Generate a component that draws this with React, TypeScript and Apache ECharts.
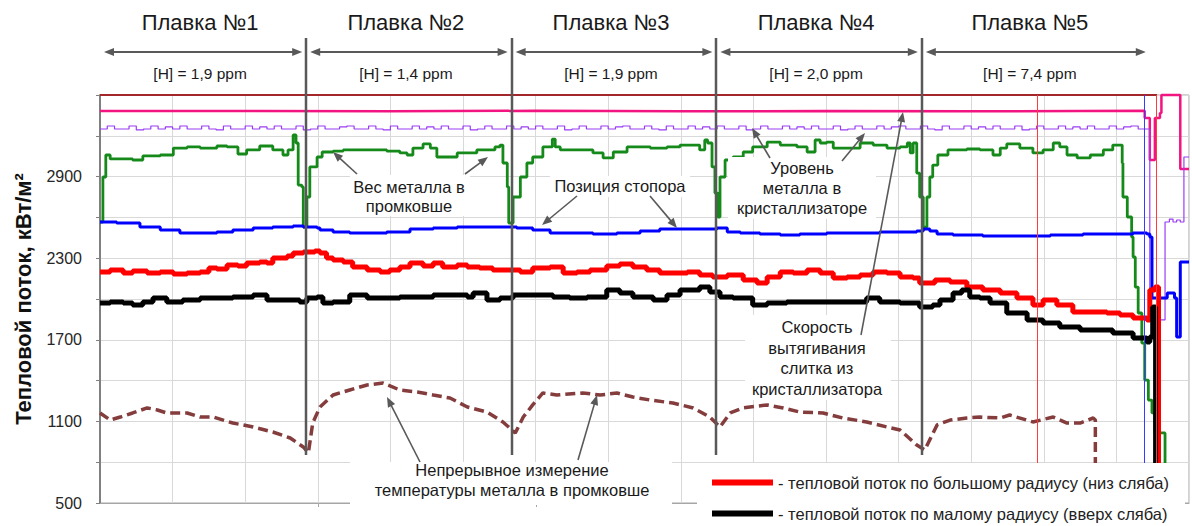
import React, { useEffect, useRef } from 'react';
import * as echarts from 'echarts';

const FONT = "'Liberation Sans', Arial, Helvetica, sans-serif";
const Y_BASE = 500;
const Y_LABELS = [500, 1100, 1700, 2300, 2900];

const heatNames = ['Плавка №1', 'Плавка №2', 'Плавка №3', 'Плавка №4', 'Плавка №5'];
const hydrogenPpm = ['[H] = 1,9 ppm', '[H] = 1,4 ppm', '[H] = 1,9 ppm', '[H] = 2,0 ppm', '[H] = 7,4 ppm'];
const heatBounds = [0, 28.4, 56.7, 84.9, 113.2, 144.6];

const LEG_LARGE = 'тепловой поток по большому радиусу (низ сляба)';
const LEG_SMALL = 'тепловой поток по малому радиусу (вверх сляба)';

const topLine: [number, number][] = [[0, 3500], [145.6, 3500]];

const castingSpeed: [number, number][] = [
  [0, 3382], [20, 3380], [40, 3384], [60, 3380], [80, 3382], [100, 3380], [120, 3384], [143.9, 3382],
  [143.9, 3331], [144.6, 3331], [144.6, 3022], [145.3, 3022], [145.3, 3331], [146.0, 3331], [146.0, 3368],
  [146.2, 3368], [146.2, 3500], [148.8, 3500], [148.8, 2956], [150, 2956],
];

const moldLevelSteady = [
  3250, 3272, 3250, 3250, 3272, 3243, 3250, 3272, 3250, 3265, 3250, 3272, 3250, 3250, 3272, 3250, 3243, 3272, 3250, 3250,
  3272, 3250, 3265, 3250, 3272, 3250, 3250, 3272, 3243, 3250, 3272, 3250, 3250, 3265, 3272, 3250, 3250, 3272, 3250, 3243,
  3272, 3250, 3250, 3272, 3250, 3265, 3250, 3272, 3250, 3250, 3272, 3243, 3250, 3272, 3250, 3250, 3272, 3250, 3265, 3250,
  3272, 3250, 3250, 3272, 3243, 3250, 3272, 3250, 3250, 3272, 3250, 3265, 3272, 3250, 3250, 3272, 3250, 3243, 3272, 3250,
  3250, 3272, 3250, 3265, 3250, 3272, 3250, 3250, 3272, 3243, 3250, 3272, 3250, 3250, 3272, 3250, 3265, 3250, 3272, 3250,
  3250, 3272, 3243, 3250, 3272, 3250, 3250, 3272, 3250, 3265, 3272, 3250, 3250, 3272, 3250, 3243, 3272, 3250, 3250, 3272,
  3250, 3265, 3250, 3272, 3250, 3250, 3272, 3243, 3250, 3272, 3250, 3250, 3272, 3250, 3265, 3250, 3272, 3250, 3250, 3272,
  3250, 3265, 3272, 3250, 3250,
];
const moldLevelTail: [number, number][] = [
  [144.6, 3250], [144.6, 1846], [146.7, 1846], [146.7, 2566], [147.3, 2588], [147.8, 2566], [148.3, 2581],
  [148.8, 2566], [149.3, 2566], [149.3, 3044], [150, 3044],
];

const tundishWeight: [number, number][] = [
  [0, 2566], [0.4, 2897], [0.8, 3059], [1.4, 3030], [4.5, 3022], [5.9, 3052], [8.3, 3059], [10.1, 3110], [12.0, 3118],
  [13.8, 3110], [16.1, 3125], [17.5, 3118], [19.0, 3066], [20.2, 3096], [22.0, 3125], [23.8, 3096], [25.2, 3059],
  [25.9, 3096], [26.6, 3206], [27.0, 3147], [27.3, 2838], [27.8, 2824], [28.0, 2529], [28.5, 2750], [28.9, 2971],
  [29.9, 3044], [30.6, 3081], [32.1, 3088], [33.5, 3096], [36.8, 3096], [39.5, 3088], [41.3, 3074], [42.3, 3059],
  [43.1, 3110], [44.5, 3140], [45.5, 3110], [46.4, 3044], [49.2, 3074], [51.9, 3096], [53.7, 3096], [54.4, 3118],
  [55.1, 3132], [55.5, 3000], [56.1, 2824], [56.3, 2559], [56.9, 2750], [57.9, 2897], [58.8, 3000], [59.6, 3044],
  [61.0, 3118], [62.3, 3176], [62.7, 3118], [63.4, 3096], [65.7, 3096], [67.9, 3074], [69.3, 3037], [70.7, 3081],
  [72.6, 3118], [75.8, 3110], [78.1, 3118], [79.9, 3132], [82.6, 3096], [83.3, 3169], [83.7, 3147], [84.3, 2971],
  [84.7, 2779], [85.1, 2603], [85.4, 2897], [86.1, 3022], [87.2, 3044], [88.6, 3081], [89.9, 3118], [91.9, 3154],
  [93.7, 3132], [96.0, 3118], [97.4, 3081], [98.5, 3169], [99.2, 3147], [100.1, 3154], [101.0, 3110], [102.9, 3110],
  [104.7, 3147], [106.5, 3132], [108.4, 3110], [110.2, 3118], [111.2, 3147], [111.6, 3074], [112.0, 3147],
  [112.5, 2926], [112.9, 2750], [113.4, 2529], [113.9, 2750], [114.3, 2897], [114.7, 2985], [115.4, 3059],
  [116.8, 3096], [119.4, 3103], [121.2, 3096], [123.0, 3059], [124.0, 3110], [124.9, 3140], [126.7, 3110],
  [128.5, 3074], [129.9, 3096], [131.3, 3147], [132.2, 3118], [133.2, 3059], [134.6, 3037], [136.4, 3059],
  [138.2, 3096], [139.5, 3132], [140.5, 3132], [140.8, 3000], [140.9, 2750], [141.5, 2603], [142.1, 2456],
  [142.3, 2309], [142.6, 2088], [143.0, 1897], [143.5, 1676], [143.9, 1404], [144.4, 1257], [144.9, 1162],
  [145.3, 1015], [146.4, 1015], [146.7, 700],
];

const stopperPosition: [number, number][] = [
  [0, 2566], [2.3, 2559], [5.5, 2529], [8.3, 2507], [11.0, 2485], [13.8, 2485], [16.1, 2493], [18.3, 2507],
  [21.1, 2522], [23.8, 2529], [26.6, 2537], [28.0, 2529], [29.9, 2522], [30.3, 2507], [32.1, 2493], [34.4, 2485],
  [36.8, 2485], [39.5, 2493], [42.7, 2515], [45.9, 2522], [49.2, 2529], [52.8, 2529], [56.1, 2529], [57.4, 2522],
  [59.6, 2507], [62.0, 2485], [64.3, 2485], [67.9, 2478], [71.2, 2485], [74.4, 2500], [77.1, 2515], [79.9, 2515],
  [82.6, 2515], [85.0, 2522], [86.4, 2493], [88.2, 2485], [90.9, 2478], [93.7, 2471], [96.4, 2478], [100.1, 2485],
  [103.7, 2485], [107.4, 2493], [110.2, 2493], [112.5, 2500], [113.4, 2515], [114.3, 2500], [115.3, 2478],
  [117.5, 2471], [121.6, 2463], [126.3, 2463], [130.9, 2471], [135.4, 2478], [140.1, 2478], [142.3, 2485],
  [144.2, 2478], [144.6, 2456], [144.9, 2007], [146.7, 2007], [147.0, 2044], [147.6, 2044], [148.0, 2007],
  [148.3, 2007], [148.3, 1720], [148.8, 1720], [148.8, 2272], [150, 2272],
];

const heatFluxLarge: [number, number][] = [
  [0, 2199], [1.4, 2213], [3.2, 2191], [4.5, 2206], [6.5, 2191], [8.3, 2199], [10.1, 2184], [12.0, 2191],
  [13.8, 2199], [15.0, 2228], [16.1, 2221], [17.5, 2250], [19.0, 2243], [20.2, 2265], [22.0, 2272], [23.0, 2265],
  [23.8, 2302], [25.8, 2316], [26.6, 2338], [28.0, 2346], [29.6, 2353], [30.3, 2338], [31.2, 2302], [32.1, 2287],
  [33.5, 2272], [34.8, 2235], [36.8, 2213], [38.6, 2199], [39.9, 2213], [41.3, 2235], [42.7, 2265], [44.5, 2243],
  [45.9, 2265], [47.2, 2235], [49.2, 2250], [50.6, 2235], [52.3, 2228], [54.1, 2213], [56.1, 2213], [57.9, 2199],
  [59.6, 2228], [62.0, 2235], [63.8, 2191], [65.7, 2199], [67.5, 2213], [69.8, 2243], [71.6, 2257], [73.4, 2235],
  [75.3, 2213], [77.1, 2191], [78.9, 2191], [80.9, 2199], [82.6, 2176], [84.4, 2162], [86.4, 2176], [88.6, 2140],
  [90.5, 2118], [91.9, 2162], [93.7, 2199], [95.5, 2191], [97.4, 2213], [99.2, 2191], [101.0, 2154], [102.9, 2162],
  [104.7, 2176], [106.5, 2199], [108.4, 2191], [110.2, 2162], [112.0, 2154], [112.9, 2118], [115.0, 2140],
  [117.1, 2125], [119.4, 2088], [121.6, 2066], [124.0, 2044], [126.3, 2007], [128.5, 1956], [129.9, 1993],
  [131.8, 1956], [134.0, 1904], [136.8, 1904], [138.7, 1897], [140.5, 1882], [142.3, 1860], [144.2, 1846],
  [144.6, 2066], [145.3, 2088], [145.7, 2088], [145.8, 700],
];

const heatFluxSmall: [number, number][] = [
  [0, 1971], [1.4, 1978], [3.2, 1971], [4.5, 1956], [5.9, 1978], [7.3, 2007], [9.2, 1978], [11.4, 1993],
  [13.8, 2007], [16.1, 2007], [18.3, 2015], [21.1, 2029], [23.0, 1993], [25.8, 1993], [27.5, 1978], [28.5, 2007],
  [29.9, 2015], [30.7, 1971], [32.1, 1978], [34.4, 2029], [36.8, 2007], [39.0, 2007], [41.3, 2015], [43.7, 2015],
  [45.9, 2029], [48.2, 2029], [50.6, 2015], [51.4, 2044], [53.3, 1993], [55.1, 2007], [56.9, 2029], [59.6, 2029],
  [62.4, 2015], [64.7, 2007], [67.1, 2015], [69.8, 2066], [71.6, 2044], [73.4, 2015], [76.2, 1993], [78.1, 2029],
  [79.9, 2066], [82.6, 2088], [84.0, 2051], [85.4, 2015], [87.2, 2007], [89.9, 1956], [91.9, 1971], [94.6, 1978],
  [97.4, 1978], [100.1, 1978], [102.9, 1978], [105.6, 2007], [107.4, 1978], [110.2, 1971], [112.9, 1941],
  [114.7, 1956], [115.7, 1993], [117.5, 2044], [118.7, 2066], [119.8, 2015], [121.2, 2007], [122.6, 1971],
  [124.9, 1897], [127.7, 1846], [129.9, 1824], [132.2, 1794], [135.0, 1772], [137.7, 1772], [139.5, 1750],
  [142.3, 1713], [144.2, 1684], [144.6, 1721], [145.0, 1941], [145.3, 1941], [145.4, 700],
];

const tundishTemp: [number, number][] = [
  [0, 1162], [1.4, 1110], [2.8, 1132], [4.5, 1162], [6.5, 1199], [7.9, 1184], [9.2, 1162], [12.0, 1162],
  [13.8, 1132], [15.6, 1132], [18.3, 1088], [21.1, 1059], [23.8, 1022], [26.2, 978], [28.0, 912], [28.7, 868],
  [29.3, 1088], [30.3, 1206], [32.1, 1294], [34.4, 1331], [36.8, 1368], [39.0, 1382], [41.3, 1331], [43.7, 1316],
  [45.9, 1294], [48.2, 1272], [50.6, 1206], [53.3, 1169], [55.5, 1096], [57.2, 1015], [58.3, 1132], [59.6, 1221],
  [61.0, 1309], [62.9, 1294], [66.5, 1309], [68.9, 1294], [71.2, 1309], [73.4, 1279], [75.8, 1257], [78.9, 1235],
  [81.7, 1199], [84.0, 1132], [84.7, 1096], [85.4, 1059], [86.8, 1162], [88.6, 1199], [91.9, 1221], [94.1, 1199],
  [96.4, 1169], [99.6, 1162], [102.3, 1125], [105.6, 1096], [108.4, 1059], [110.2, 1037], [112.5, 926],
  [113.6, 890], [115.3, 1074], [117.1, 1110], [119.4, 1125], [121.2, 1132], [124.0, 1125], [125.3, 1147],
  [128.5, 1096], [131.3, 1132], [133.2, 1088], [135.0, 1088], [136.8, 1125], [137.1, 1110], [137.1, 700],
];

const redMarkers = [129.1, 145.5];
const blueMarkers = [143.9];

const off = (d: [number, number][]) => d.map(([t, v]) => [t, v - Y_BASE]);

function buildOption(): any {
  const base = { type: 'line', showSymbol: false, symbol: 'none', silent: true, animation: false };
  const moldLevel = moldLevelSteady.map((v, i) => [i, v] as [number, number]).concat(moldLevelTail);
  return {
    animation: false,
    backgroundColor: '#ffffff',
    textStyle: { fontFamily: FONT },
    grid: { left: 100, right: 3, top: 95, bottom: 23, show: true, borderColor: '#a6a6a6', borderWidth: 1 },
    legend: {
      data: [{ name: LEG_LARGE, icon: 'rect' }, { name: LEG_SMALL, icon: 'rect' }],
      orient: 'vertical', left: 712, top: 474, padding: 0, itemWidth: 61, itemHeight: 6, itemGap: 14,
      selectedMode: false, z: 120,
      formatter: (n: string) => '- ' + n,
      textStyle: { fontSize: 16.5, color: '#222', fontFamily: FONT },
    },
    xAxis: {
      type: 'value', min: 0, max: 150, interval: 10,
      axisLine: { show: true, lineStyle: { color: '#a6a6a6', width: 1 } },
      axisTick: { show: false }, axisLabel: { show: false },
      splitLine: { show: true, lineStyle: { color: '#d9d9d9', width: 1 } },
    },
    yAxis: {
      type: 'value', min: 0, max: 3000, interval: 300,
      name: 'Тепловой поток, кВт/м²', nameLocation: 'middle', nameGap: 66,
      nameTextStyle: { fontSize: 22, fontWeight: 'bold', color: '#111', fontFamily: FONT },
      axisLine: { show: true, lineStyle: { color: '#808080', width: 2 } },
      axisTick: { show: true, length: 4, lineStyle: { color: '#808080' } },
      axisLabel: {
        fontSize: 16, color: '#262626', margin: 18, fontFamily: FONT,
        formatter: (v: number) => (Y_LABELS.indexOf(v + Y_BASE) >= 0 ? String(v + Y_BASE) : ''),
      },
      splitLine: { show: true, lineStyle: { color: '#d9d9d9', width: 1 } },
    },
    series: [
      { ...base, name: 'top', data: off(topLine), clip: false, lineStyle: { color: '#a3262a', width: 2 }, z: 3 },
      { ...base, name: 'Скорость вытягивания', data: off(castingSpeed), step: 'end', clip: false,
        lineStyle: { color: '#f21480', width: 2.5 }, z: 3 },
      { ...base, name: 'Уровень металла', data: off(moldLevel), step: 'end',
        lineStyle: { color: '#9b3cf5', width: 1.2 }, z: 3 },
      { ...base, name: 'Вес металла', data: off(tundishWeight), step: 'end',
        lineStyle: { color: '#15891a', width: 2.8 }, z: 3 },
      { ...base, name: 'Позиция стопора', data: off(stopperPosition), step: 'end',
        lineStyle: { color: '#0000ff', width: 3 }, z: 3,
        markLine: { silent: true, symbol: ['none', 'none'], label: { show: false }, animation: false,
          lineStyle: { color: '#3a3aff', width: 1, type: 'solid' }, data: blueMarkers.map((x) => ({ xAxis: x })) } },
      { ...base, name: LEG_LARGE, data: off(heatFluxLarge), step: 'end',
        itemStyle: { color: '#ff0000' }, lineStyle: { color: '#ff0000', width: 5 }, z: 4,
        markLine: { silent: true, symbol: ['none', 'none'], label: { show: false }, animation: false,
          lineStyle: { color: '#ff3b3b', width: 1, type: 'solid' }, data: redMarkers.map((x) => ({ xAxis: x })) } },
      { ...base, name: LEG_SMALL, data: off(heatFluxSmall), step: 'end',
        itemStyle: { color: '#000000' }, lineStyle: { color: '#000000', width: 5 }, z: 4 },
      { ...base, name: 'Температура', data: off(tundishTemp),
        lineStyle: { color: '#843c3c', width: 3.5, type: [10, 5] }, z: 3 },
    ],
  };
}

const GRAY = '#595959';

function arrow(x1: number, y1: number, x2: number, y2: number, o: { lw: number; len: number; w: number; both?: boolean; z: number }) {
  const dx = x2 - x1, dy = y2 - y1;
  const L = Math.hypot(dx, dy);
  const ux = dx / L, uy = dy / L;
  const head = (tx: number, ty: number, sx: number, sy: number) => {
    const bx = tx - sx * o.len, by = ty - sy * o.len;
    return {
      type: 'polygon', z: o.z, silent: true,
      shape: { points: [[tx, ty], [bx - sy * o.w / 2, by + sx * o.w / 2], [bx + sy * o.w / 2, by - sx * o.w / 2]] },
      style: { fill: GRAY },
    };
  };
  const els: any[] = [];
  const sx = o.both ? x1 + ux * (o.len - 1) : x1;
  const sy = o.both ? y1 + uy * (o.len - 1) : y1;
  els.push({ type: 'line', z: o.z, silent: true,
    shape: { x1: sx, y1: sy, x2: x2 - ux * (o.len - 1), y2: y2 - uy * (o.len - 1) },
    style: { stroke: GRAY, lineWidth: o.lw } });
  els.push(head(x2, y2, ux, uy));
  if (o.both) els.push(head(x1, y1, -ux, -uy));
  return els;
}

function text(x: number, y: number, s: string, size: number, z: number, extra: any = {}) {
  return {
    type: 'text', x, y, z, silent: true,
    style: { text: s, fill: '#1a1a1a', fontSize: size, fontFamily: FONT, align: 'center', verticalAlign: 'middle',
      textAlign: 'center', textVerticalAlign: 'middle', ...extra },
  };
}

function box(x1: number, y1: number, x2: number, y2: number, z: number) {
  return { type: 'rect', z, silent: true, shape: { x: x1, y: y1, width: x2 - x1, height: y2 - y1 }, style: { fill: '#ffffff' } };
}

function buildGraphics(chart: any): any[] {
  const xPx = (t: number) => chart.convertToPixel({ xAxisIndex: 0 }, t) as number;
  const yPx = (v: number) => chart.convertToPixel({ yAxisIndex: 0 }, v - Y_BASE) as number;
  const els: any[] = [];
  const axisY = yPx(Y_BASE);
  [30, 60, 90, 120].forEach((t) => {
    const x = Math.round(xPx(t)) + 0.5;
    els.push({ type: 'line', z: 1, silent: true, shape: { x1: x, y1: axisY, x2: x, y2: axisY + 4 }, style: { stroke: '#a6a6a6', lineWidth: 1 } });
  });
  heatBounds.slice(1, -1).forEach((t) => {
    const x = Math.round(xPx(t));
    els.push({ type: 'line', z: 50, silent: true, shape: { x1: x, y1: 38, x2: x, y2: 455 }, style: { stroke: GRAY, lineWidth: 2.5 } });
  });
  for (let i = 0; i < heatNames.length; i++) {
    const a = xPx(heatBounds[i]);
    const b = xPx(heatBounds[i + 1]);
    const cx = (a + b) / 2 - (i === heatNames.length - 1 ? 6 : 3);
    els.push(text(cx, 22, heatNames[i], 22, 60));
    els.push(...arrow(a + 4, 52, b - 4, 52, { lw: 2, len: 10, w: 8, both: true, z: 60 }));
    els.push(text(cx, 73, hydrogenPpm[i], 15.5, 60));
  }
  // white boxes behind annotations
  els.push(box(350, 175, 470, 216, 100));
  els.push(box(550, 176, 690, 197, 100));
  els.push(box(728, 157, 876, 219, 100));
  els.push(box(745, 315, 891, 400, 100));
  els.push(box(350, 462, 672, 505, 100));
  els.push(box(697, 463, 1185, 526, 100));
  // annotation texts
  els.push(text(409, 196, 'Вес металла в\nпромковше', 16.5, 101, { lineHeight: 19 }));
  els.push(text(620, 186, 'Позиция стопора', 16.5, 101));
  els.push(text(802, 188, 'Уровень\nметалла в\nкристаллизаторе', 16.5, 101, { lineHeight: 20 }));
  els.push(text(817, 358, 'Скорость\nвытягивания\nслитка из\nкристаллизатора', 16.5, 101, { lineHeight: 20.7 }));
  els.push(text(512, 480, 'Непрерывное измерение\nтемпературы металла в промковше', 16.5, 101, { lineHeight: 20 }));
  // annotation arrows
  const ao = { lw: 1.6, len: 10, w: 8, z: 102 };
  els.push(...arrow(357, 174, 333, 152, ao));
  els.push(...arrow(465, 174, 488, 157, ao));
  els.push(...arrow(577, 196, 542, 225, ao));
  els.push(...arrow(650, 196, 677, 228, ao));
  els.push(...arrow(770, 158, 752, 128, ao));
  els.push(...arrow(842, 161, 865, 133, ao));
  els.push(...arrow(861, 335, 903, 112, ao));
  els.push(...arrow(420, 462, 387, 397, ao));
  els.push(...arrow(578, 460, 597, 395, ao));
  return els;
}

export default function App() {
  const ref = useRef<HTMLDivElement>(null);
  useEffect(() => {
    const chart = echarts.init(ref.current as HTMLDivElement, null, { renderer: 'svg' });
    chart.setOption(buildOption());
    chart.setOption({ graphic: buildGraphics(chart) });
    return () => chart.dispose();
  }, []);
  return (
    <div
      ref={ref}
      style={{ position: 'fixed', left: 0, top: 0, width: 1192, height: 526, background: '#ffffff' }}
    />
  );
}
